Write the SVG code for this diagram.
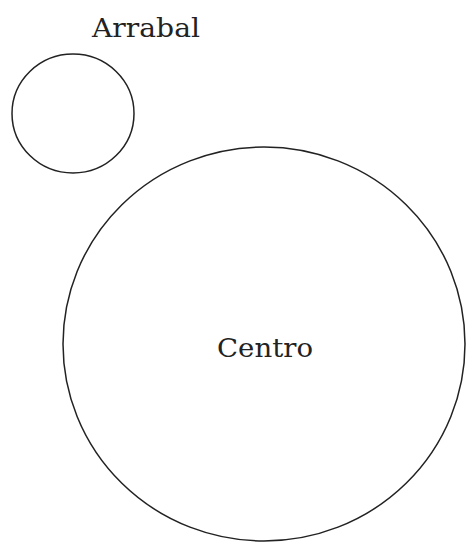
<svg xmlns="http://www.w3.org/2000/svg" width="466" height="542" viewBox="0 0 466 542">
<style>
.c{fill:none;stroke:#222;stroke-width:1.5}
.t{font-family:"DejaVu Serif","Liberation Serif",serif;font-size:26px;fill:#222;text-anchor:middle}
</style>
<rect width="466" height="542" fill="#fff"/>
<g id="arrabal">
<ellipse class="c" cx="73" cy="113.5" rx="61" ry="59.5"/>
<text class="t" x="146" y="37" textLength="108" lengthAdjust="spacingAndGlyphs">Arrabal</text>
</g>
<g id="centro">
<ellipse class="c" cx="264" cy="344" rx="201" ry="197"/>
<text class="t" x="265" y="357" textLength="96" lengthAdjust="spacingAndGlyphs">Centro</text>
</g>
<g id="connectors"></g>
</svg>
